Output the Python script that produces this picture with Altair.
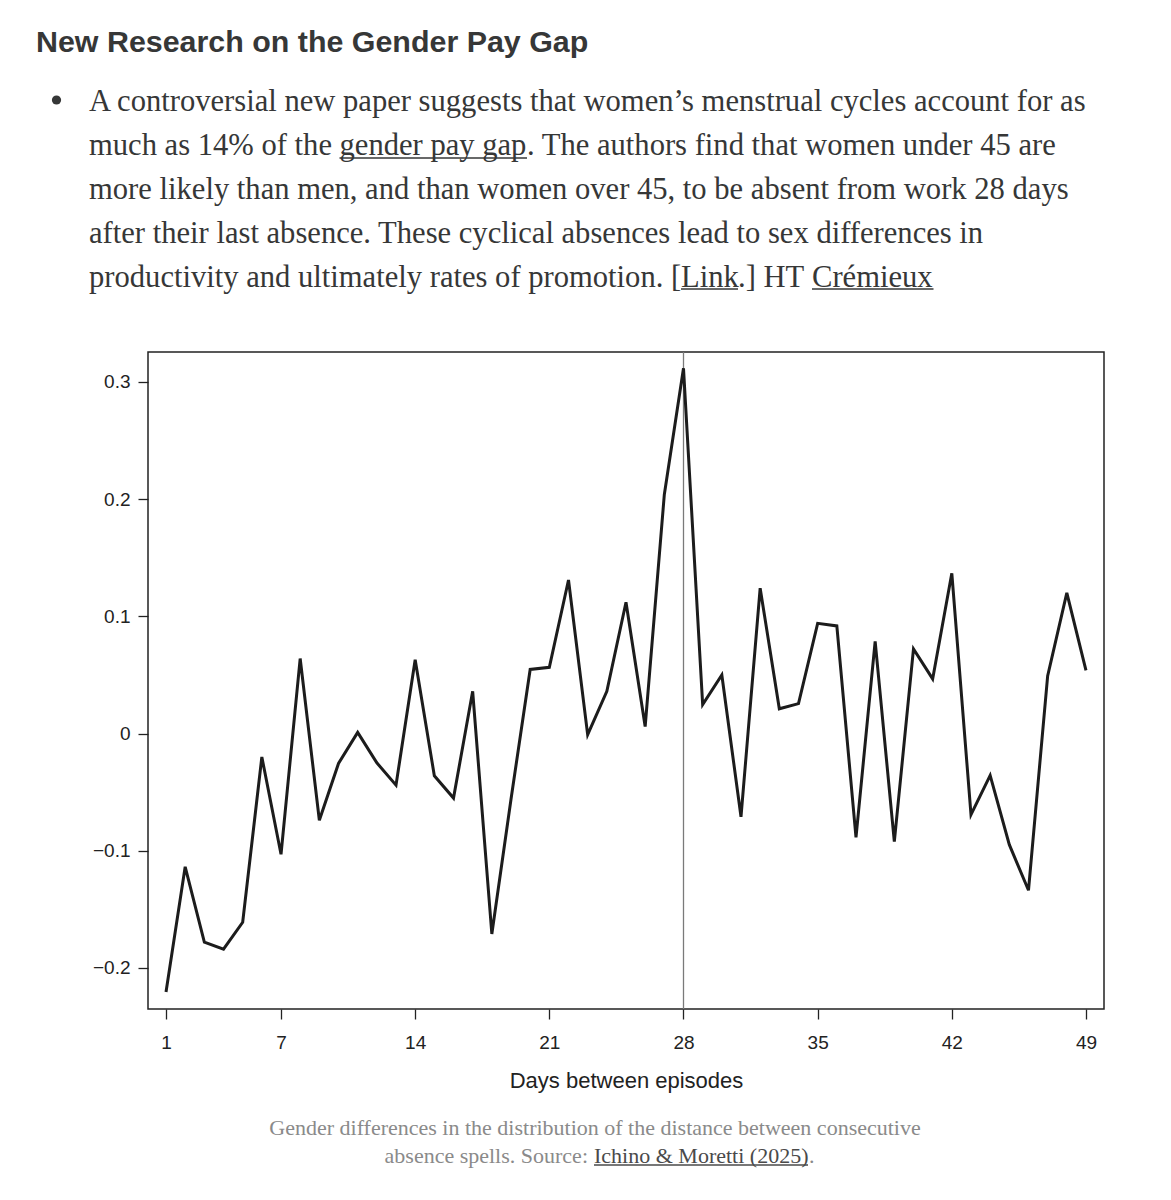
import altair as alt
import pandas as pd

# ---------------- data ----------------
days = list(range(1, 50))
gender_diff = [
    -0.2205, -0.1137, -0.178, -0.184, -0.161, -0.020, -0.103, 0.064, -0.074, -0.0255,
    0.001, -0.025, -0.044, 0.063, -0.036, -0.055, 0.036, -0.171, -0.056, 0.0547,
    0.0565, 0.131, -0.001, 0.036, 0.112, 0.006, 0.204, 0.3116, 0.0248, 0.050,
    -0.071, 0.124, 0.0211, 0.0255, 0.094, 0.0918, -0.0886, 0.0787, -0.0922, 0.0722,
    0.0466, 0.1367, -0.0692, -0.0357, -0.0948, -0.1337, 0.0492, 0.120, 0.0539,
]
x_ticks = [1, 7, 14, 21, 28, 35, 42, 49]
y_ticks = [-0.2, -0.1, 0, 0.1, 0.2, 0.3]
marker_day = [28]

heading = "New Research on the Gender Pay Gap"
para_line1 = "A controversial new paper suggests that women\u2019s menstrual cycles account for as"
para_line2 = ["much as 14% of the", "gender pay gap", ". The authors find that women under 45 are"]
para_line3 = "more likely than men, and than women over 45, to be absent from work 28 days"
para_line4 = "after their last absence. These cyclical absences lead to sex differences in"
para_line5 = ["productivity and ultimately rates of promotion. [", "Link", ".] HT", "Cr\u00e9mieux"]
caption_line1 = "Gender differences in the distribution of the distance between consecutive"
caption_line2 = ["absence spells. Source:", "Ichino & Moretti (2025)", "."]
x_title = "Days between episodes"

df = pd.DataFrame({"day": days, "diff": gender_diff})

# ---------------- layout constants ----------------
W, H = 956, 657
SANS = "Liberation Sans"
SERIF = "Liberation Serif"
TXT = "#363737"
GREY = "#8a8a8a"
PS = 30.6  # paragraph font size

x_scale = alt.Scale(domain=[0.06, 49.94], nice=False, zero=False)
y_scale = alt.Scale(domain=[-0.235, 0.3255], nice=False, zero=False)

one = alt.Data(values=[{"k": 1}])


def text(s, x, y, size, font, color, align="left", weight="normal"):
    return alt.Chart(alt.Data(values=[{"t": s}])).mark_text(
        align=align, baseline="alphabetic", font=font, fontSize=size,
        color=color, fontWeight=weight
    ).encode(x=alt.value(x), y=alt.value(y), text="t:N")


def underline(x1, x2, y, color=TXT, w=1.5):
    return alt.Chart(one).mark_rule(color=color, strokeWidth=w).encode(
        x=alt.value(x1), x2=alt.value(x2), y=alt.value(y)
    )


vline = alt.Chart(pd.DataFrame({"day": marker_day})).mark_rule(
    color="#7a7a7a", strokeWidth=1.3
).encode(
    x=alt.X("day:Q", scale=x_scale),
    y=alt.value(0), y2=alt.value(H),
)

line = alt.Chart(df).mark_line(color="#1c1c1c", strokeWidth=3, strokeJoin="miter").encode(
    x=alt.X("day:Q", scale=x_scale,
            axis=alt.Axis(values=x_ticks, title=x_title, grid=False, domain=False,
                          tickSize=10, tickWidth=1.3, tickColor="#222",
                          labelFont=SANS, labelFontSize=19, labelColor="#222",
                          labelPadding=14, labelOverlap=False, labelFlush=False,
                          titleFont=SANS, titleFontSize=22, titleFontWeight="normal",
                          titleColor="#222", titlePadding=18)),
    y=alt.Y("diff:Q", scale=y_scale,
            axis=alt.Axis(values=y_ticks, format=".1~f", title=None, grid=False,
                          domain=False, tickSize=10, tickWidth=1.3, tickColor="#222",
                          labelFont=SANS, labelFontSize=19, labelColor="#222",
                          labelPadding=8, labelOverlap=False, labelFlush=False)),
)

texts = [
    text(heading, -112, -300, 30.4, SANS, TXT, weight="bold"),
    alt.Chart(one).mark_circle(color=TXT, size=85, opacity=1).encode(
        x=alt.value(-91.5), y=alt.value(-252)),
    text(para_line1, -59, -241.5, PS, SERIF, TXT),
    text(para_line2[0], -59, -197.5, PS, SERIF, TXT),
    text(para_line2[1], 191.5, -197.5, PS, SERIF, TXT),
    text(para_line2[2], 379, -197.5, PS, SERIF, TXT),
    underline(191.5, 379, -194),
    text(para_line3, -59, -153.5, PS, SERIF, TXT),
    text(para_line4, -59, -109.5, PS, SERIF, TXT),
    text(para_line5[0], -59, -65.5, PS, SERIF, TXT),
    text(para_line5[1], 533, -65.5, PS, SERIF, TXT),
    text(para_line5[2], 590, -65.5, PS, SERIF, TXT),
    text(para_line5[3], 664, -65.5, PS, SERIF, TXT),
    underline(533, 590, -63),
    underline(664, 785.5, -63),
    text(caption_line1, 447, 783, 22, SERIF, GREY, align="center"),
    text(caption_line2[0], 440, 811, 22, SERIF, GREY, align="right"),
    text(caption_line2[1], 446, 811, 22, SERIF, "#4a4a4a"),
    text(caption_line2[2], 661, 811, 22, SERIF, GREY),
    underline(446, 660, 813, color="#4a4a4a", w=1.3),
]

chart = alt.layer(vline, line, *texts).properties(
    width=W, height=H,
    autosize=alt.AutoSizeParams(type="none"),
    padding={"left": 140, "top": 344, "right": 50, "bottom": 170},
    background="white",
).configure_view(stroke="#222", strokeWidth=1.5)

chart.save("out.html", embed_options={"renderer": "svg", "actions": False})
